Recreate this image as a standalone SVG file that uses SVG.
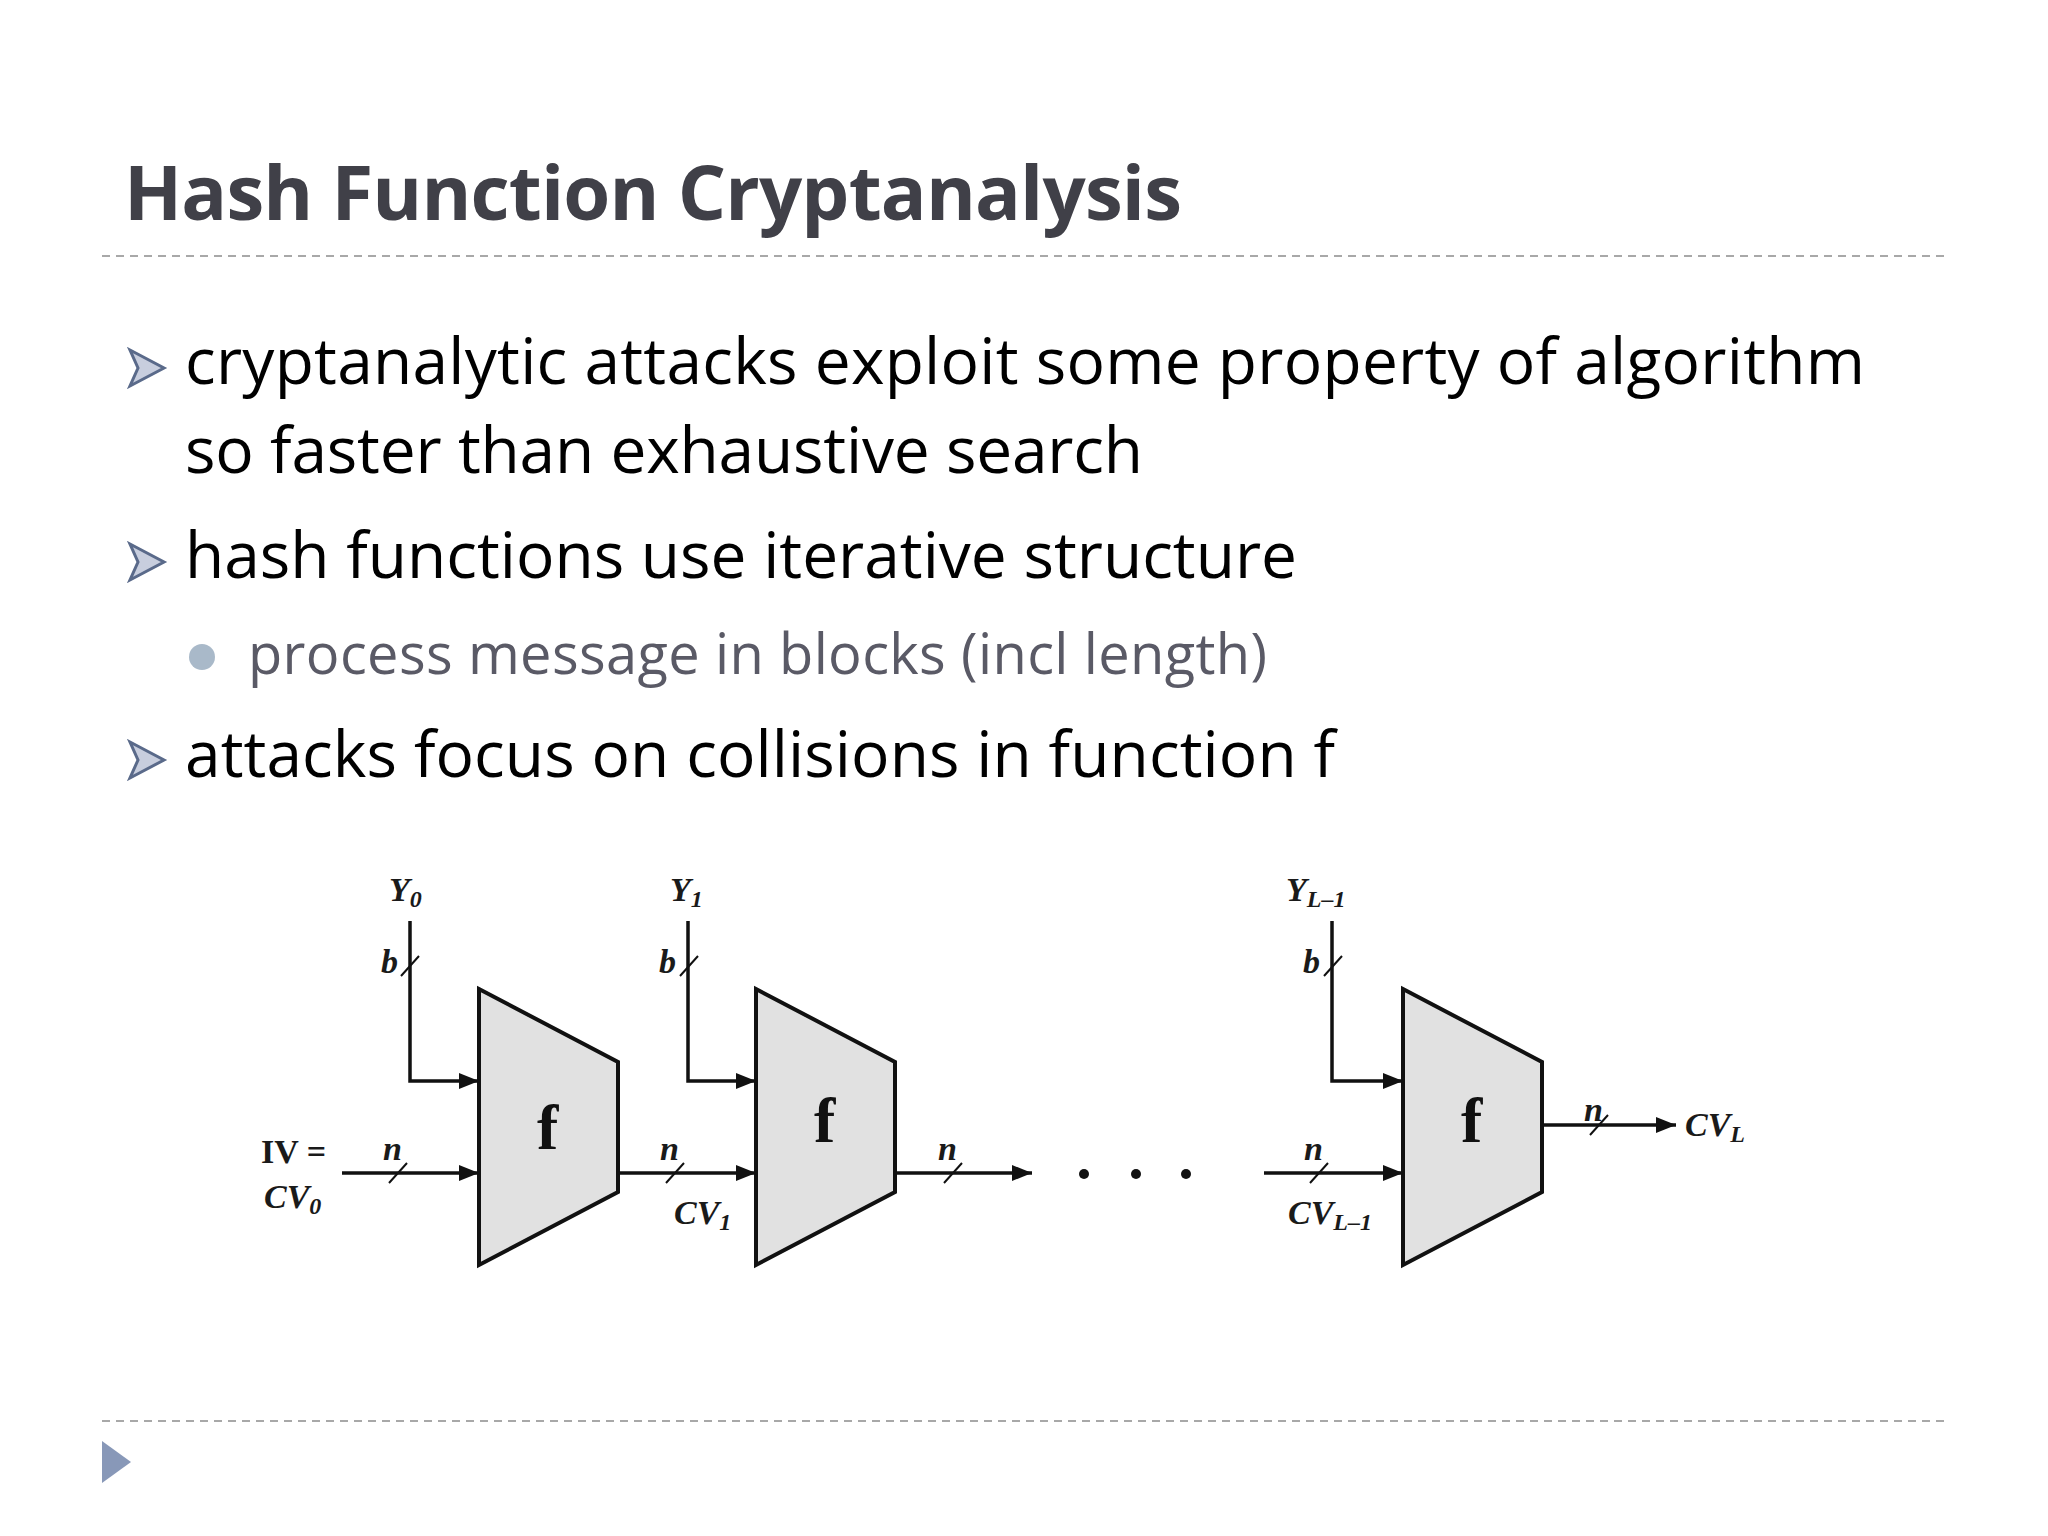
<svg xmlns="http://www.w3.org/2000/svg" width="2048" height="1536" viewBox="0 0 2048 1536">
<style>
.t{font-family:"Open Sans","Noto Sans",sans-serif;fill:#000}
.l{font-family:"Liberation Serif",serif;font-weight:bold;font-style:italic;font-size:34px;fill:#1a1a1a}
.w{stroke:#111;stroke-width:3.5;fill:none}
.s{stroke:#111;stroke-width:2;fill:none}
.tr{fill:#e1e1e1;stroke:#111;stroke-width:4}
.f{font-family:"Liberation Serif",serif;font-weight:bold;font-size:64px;fill:#111}
</style>
<defs>
<marker id="a" viewBox="0 0 20 16" refX="20" refY="8" markerWidth="20" markerHeight="16" markerUnits="userSpaceOnUse" orient="auto"><path d="M0,0L20,8L0,16z" fill="#111"/></marker>
<g id="bul"><path d="M0,-18L34,0L0,18L8,0z" fill="#c8cede" stroke="#5a6a8a" stroke-width="3"/></g>
</defs>
<rect width="2048" height="1536" fill="#fff"/>
<g id="title">
<text x="124" y="220" class="t" font-size="76" font-weight="bold" style="fill:#404048" textLength="1058">Hash Function Cryptanalysis</text>
<line x1="102" y1="256" x2="1946" y2="256" stroke="#a8a8a8" stroke-width="2" stroke-dasharray="8,6"/>
<line x1="102" y1="1421" x2="1946" y2="1421" stroke="#a8a8a8" stroke-width="2" stroke-dasharray="8,6"/>
<path d="M102,1441L131,1462L102,1483z" fill="#8898b8"/>
</g>
<g id="bullets">
<use href="#bul" x="130" y="368"/>
<use href="#bul" x="130" y="562"/>
<use href="#bul" x="130" y="760"/>
<text x="185" y="384" class="t" font-size="64" textLength="1680">cryptanalytic attacks exploit some property of algorithm</text>
<text x="185" y="473" class="t" font-size="64" textLength="958">so faster than exhaustive search</text>
<text x="185" y="578" class="t" font-size="64" textLength="1112">hash functions use iterative structure</text>
<circle cx="202" cy="657" r="13" fill="#a9b9c9"/>
<text x="248" y="674" class="t" font-size="56" style="fill:#5a5a66" textLength="1019">process message in blocks (incl length)</text>
<text x="185" y="777" class="t" font-size="64" textLength="1150">attacks focus on collisions in function f</text>
</g>
<g id="f1"><path class="tr" d="M479,989L618,1062L618,1192L479,1265z"/><text x="537" y="1149" class="f">f</text></g>
<g id="f2"><path class="tr" d="M756,989L895,1062L895,1192L756,1265z"/><text x="814" y="1142" class="f">f</text></g>
<g id="f3"><path class="tr" d="M1403,989L1542,1062L1542,1192L1403,1265z"/><text x="1461" y="1142" class="f">f</text></g>
<g id="connectors">
<path class="w" d="M410,921V1081H479" marker-end="url(#a)"/>
<path class="w" d="M688,921V1081H756" marker-end="url(#a)"/>
<path class="w" d="M1332,921V1081H1403" marker-end="url(#a)"/>
<path class="w" d="M342,1173H479" marker-end="url(#a)"/>
<path class="w" d="M618,1173H756" marker-end="url(#a)"/>
<path class="w" d="M895,1173H1032" marker-end="url(#a)"/>
<path class="w" d="M1264,1173H1403" marker-end="url(#a)"/>
<path class="w" d="M1542,1125H1676" marker-end="url(#a)"/>
<path class="s" d="M401,976L419,956M680,976L698,956M1324,976L1342,956M389,1183L407,1163M666,1183L684,1163M944,1183L962,1163M1310,1183L1328,1163M1590,1135L1608,1115"/>
<circle cx="1084" cy="1174" r="5" fill="#111"/><circle cx="1136" cy="1174" r="5" fill="#111"/><circle cx="1186" cy="1174" r="5" fill="#111"/>
</g>
<g id="labels">
<text x="389" y="901" class="l">Y<tspan font-size="24" dy="6">0</tspan></text>
<text x="670" y="901" class="l">Y<tspan font-size="24" dy="6">1</tspan></text>
<text x="1286" y="901" class="l">Y<tspan font-size="24" dy="6">L–1</tspan></text>
<text x="381" y="973" class="l">b</text>
<text x="659" y="973" class="l">b</text>
<text x="1303" y="973" class="l">b</text>
<text x="383" y="1160" class="l">n</text>
<text x="660" y="1160" class="l">n</text>
<text x="938" y="1160" class="l">n</text>
<text x="1304" y="1160" class="l">n</text>
<text x="1584" y="1121" class="l">n</text>
<text x="261" y="1163" class="l" style="font-style:normal">IV =</text>
<text x="264" y="1208" class="l">CV<tspan font-size="24" dy="6">0</tspan></text>
<text x="674" y="1224" class="l">CV<tspan font-size="24" dy="6">1</tspan></text>
<text x="1288" y="1224" class="l">CV<tspan font-size="24" dy="6">L–1</tspan></text>
<text x="1685" y="1136" class="l">CV<tspan font-size="24" dy="6">L</tspan></text>
</g>
</svg>
